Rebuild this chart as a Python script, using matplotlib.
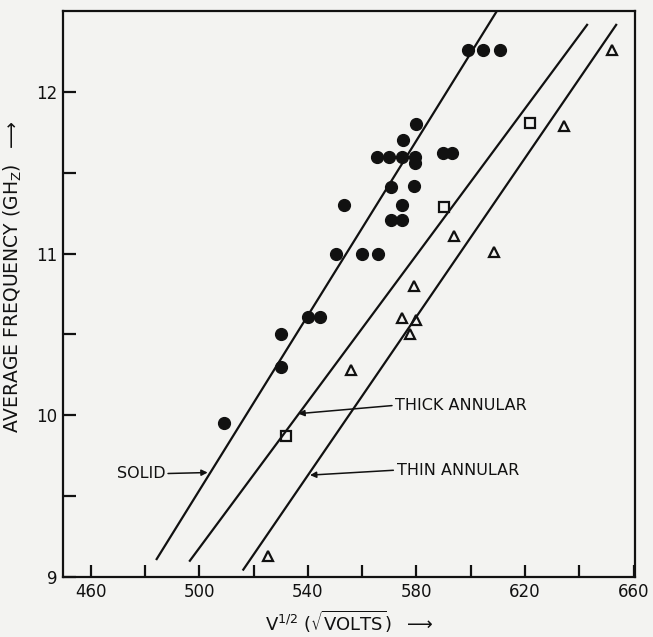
import matplotlib
matplotlib.use("Agg")
import matplotlib.pyplot as plt

plt.rcParams['font.family'] = ['DejaVu Sans']

# Solid (filled circles)
solid_x = [509, 530, 530, 540, 544.5, 550.3, 560, 566, 553.5, 570.6, 574.6, 574.6,
           570.6, 579, 565.4, 570, 574.6, 579.5, 589.7, 593, 579.5, 575, 580, 599, 604.4, 610.7]
solid_y = [9.95, 10.3, 10.5, 10.61, 10.61, 11.0, 11.0, 11.0, 11.3, 11.21, 11.21, 11.3,
           11.41, 11.42, 11.6, 11.6, 11.6, 11.6, 11.62, 11.62, 11.56, 11.7, 11.8, 12.26, 12.26, 12.26]
# Thick annular (squares)
thick_x = [532, 590, 622]
thick_y = [9.87, 11.29, 11.81]
# Thin annular (triangles)
thin_x = [525.5, 556, 577.7, 574.6, 580, 579, 594, 608.6, 634.5, 652]
thin_y = [9.13, 10.28, 10.5, 10.6, 10.59, 10.8, 11.11, 11.01, 11.79, 12.26]

# Fitted lines (end points)
solid_line_x = [484.1, 610.0]
solid_line_y = [9.105, 12.51]
thick_line_x = [496.3, 643.1]
thick_line_y = [9.095, 12.42]
thin_line_x = [516.0, 653.8]
thin_line_y = [9.04, 12.42]

x_ticks = list(range(460, 661, 20))
x_labels = [str(v) if (v - 460) % 40 == 0 else '' for v in x_ticks]
y_ticks = [9, 9.5, 10, 10.5, 11, 11.5, 12]
y_labels = ['9', '', '10', '', '11', '', '12']

bg = '#f3f3f1'
fig = plt.figure(figsize=(6.53, 6.37), dpi=100, facecolor=bg)
ax = fig.add_axes([0.096, 0.0942, 0.8764, 0.8885])
ax.set_facecolor(bg)

ink = '#111111'
for lx, ly in [(solid_line_x, solid_line_y), (thick_line_x, thick_line_y), (thin_line_x, thin_line_y)]:
    ax.plot(lx, ly, color=ink, lw=1.6, solid_capstyle='butt')

ax.plot(solid_x, solid_y, 'o', color=ink, ms=8.5, mec=ink)
ax.plot(thick_x, thick_y, 's', mfc='none', mec=ink, ms=6.5, mew=1.6)
ax.plot(thin_x, thin_y, '^', mfc='none', mec=ink, ms=7.5, mew=1.6)

ax.set_xlim(449.7, 660.5)
ax.set_ylim(9, 12.5)
ax.set_xticks(x_ticks)
ax.set_xticklabels(x_labels)
ax.set_yticks(y_ticks)
ax.set_yticklabels(y_labels)
ax.tick_params(direction='in', length=9, width=1.6, labelsize=12, colors=ink, pad=4)
for s in ax.spines.values():
    s.set_linewidth(1.6)
    s.set_color(ink)

# Annotations
arrow_kw = dict(arrowstyle='-|>', color=ink, lw=1.1, mutation_scale=9,
                shrinkA=0, shrinkB=0)
ax.annotate('', xy=(503.1, 9.646), xytext=(488.5, 9.64), arrowprops=arrow_kw)
ax.text(487.8, 9.64, 'SOLID', ha='right', va='center', fontsize=11.5, color=ink)
ax.annotate('', xy=(536.5, 10.01), xytext=(571.0, 10.06), arrowprops=arrow_kw)
ax.text(572, 10.06, 'THICK ANNULAR', ha='left', va='center', fontsize=11.5, color=ink)
ax.annotate('', xy=(540.8, 9.63), xytext=(571.5, 9.66), arrowprops=arrow_kw)
ax.text(572.7, 9.66, 'THIN ANNULAR', ha='left', va='center', fontsize=11.5, color=ink)

ax.set_xlabel(r'V$^{1/2}$ ($\sqrt{\mathrm{VOLTS}}$)  $\longrightarrow$', fontsize=13, color=ink, labelpad=6)
ylab = ax.set_ylabel(r'AVERAGE FREQUENCY (GH$_\mathrm{Z}$)  $\longrightarrow$', fontsize=13.5, color=ink)
ax.yaxis.set_label_coords(-0.068, 0.53)

fig.savefig('out.png', dpi=100, facecolor=bg)
